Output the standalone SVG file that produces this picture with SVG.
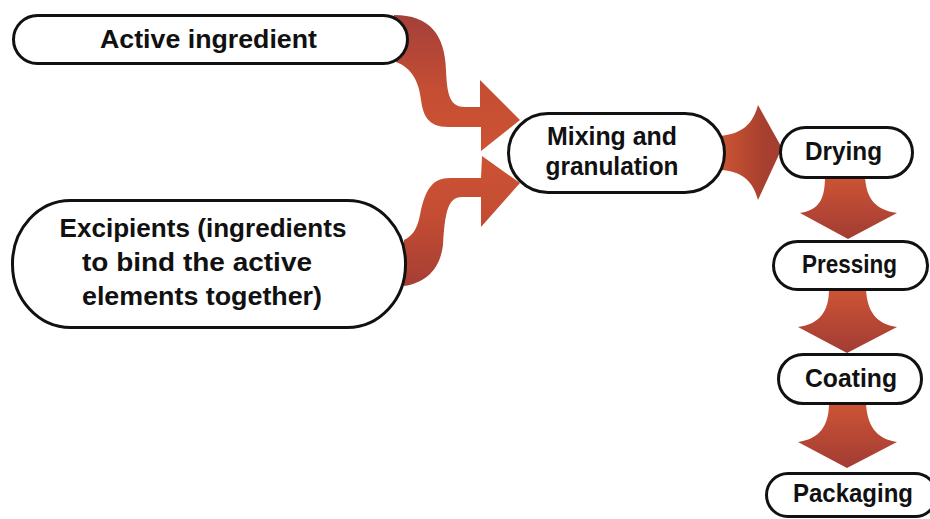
<svg xmlns="http://www.w3.org/2000/svg" width="930" height="519" viewBox="0 0 930 519">
<defs>
<linearGradient id="gA" x1="0" y1="0" x2="0" y2="1">
<stop offset="0" stop-color="#a43f3a"/><stop offset="0.55" stop-color="#c54e33"/><stop offset="1" stop-color="#cc5233"/>
</linearGradient>
<linearGradient id="gB" x1="0" y1="0" x2="0" y2="1">
<stop offset="0" stop-color="#cc5233"/><stop offset="0.45" stop-color="#c44d33"/><stop offset="1" stop-color="#a63e35"/>
</linearGradient>
<linearGradient id="gC" x1="0" y1="0" x2="1" y2="0">
<stop offset="0" stop-color="#cd5434"/><stop offset="0.7" stop-color="#a8402f"/><stop offset="1" stop-color="#a33d30"/>
</linearGradient>
<linearGradient id="gD" x1="0" y1="0" x2="0" y2="1">
<stop offset="0" stop-color="#cd5434"/><stop offset="1" stop-color="#a23c34"/>
</linearGradient>
<style>
.pill{fill:#fff;stroke:#111;stroke-width:3}
.lbl{font-family:"Liberation Sans",Arial,sans-serif;font-weight:bold;font-size:26px;fill:#111;text-anchor:middle}
</style>
</defs>
<g id="connectors">
<path fill="url(#gA)" d="M 394,15 C 430,15 445,35 446,70 C 447,95 450,107 465,107 L 480,107 L 480,80 L 520,120 L 481,151 L 481,127 L 448,127 C 428,127 423,115 421,100 C 419,82 412,68 396,62 Z"/>
<path fill="url(#gB)" d="M 481,178 L 450,178 C 432,178 425,190 420,215 C 417,230 412,236 404,240 L 404,286 C 425,283 440,270 443,245 C 445,215 447,197 462,197 L 481,197 L 481,227 L 520,183 L 482,156 Z"/>
<path fill="url(#gC)" d="M 720,136 C 742,134 753,124 758,105 L 782,148 L 758,200 C 753,181 742,171 720,170 Z"/>
<path fill="url(#gD)" d="M 825,176 L 865,176 C 866,198 875,210 897,213 L 848,239 L 800,213 C 820,210 825,198 825,176 Z"/>
<path fill="url(#gD)" d="M 829,289 L 866,289 C 867,311 876,324 897,327 L 847,353 L 798,327 C 820,324 829,311 829,289 Z"/>
<path fill="url(#gD)" d="M 829,403 L 866,403 C 867,425 876,439 897,442 L 847,468 L 798,442 C 820,439 829,425 829,403 Z"/>
</g>
<g id="active">
<rect class="pill" x="13.5" y="15.5" width="394" height="48" rx="24"/>
<text class="lbl" x="208.5" y="48" font-size="28" textLength="217" lengthAdjust="spacingAndGlyphs">Active ingredient</text>
</g>
<g id="excipients">
<rect class="pill" x="12.5" y="200.5" width="393" height="127" rx="58" ry="63"/>
<text class="lbl" x="203" y="237" font-size="28" textLength="287" lengthAdjust="spacingAndGlyphs">Excipients (ingredients</text>
<text class="lbl" x="197" y="271" font-size="28" textLength="230" lengthAdjust="spacingAndGlyphs">to bind the active</text>
<text class="lbl" x="202" y="305" font-size="28" textLength="240" lengthAdjust="spacingAndGlyphs">elements together)</text>
</g>
<g id="mixing">
<rect class="pill" x="508.5" y="113.5" width="216" height="79" rx="39.5"/>
<text class="lbl" x="612" y="145" textLength="130" lengthAdjust="spacingAndGlyphs">Mixing and</text>
<text class="lbl" x="612" y="175" textLength="133" lengthAdjust="spacingAndGlyphs">granulation</text>
</g>
<g id="drying">
<rect class="pill" x="780.5" y="127.5" width="132" height="50" rx="25"/>
<text class="lbl" x="843.5" y="160" textLength="77" lengthAdjust="spacingAndGlyphs">Drying</text>
</g>
<g id="pressing">
<rect class="pill" x="773.5" y="241.5" width="154" height="48" rx="24"/>
<text class="lbl" x="849.5" y="273" textLength="95" lengthAdjust="spacingAndGlyphs">Pressing</text>
</g>
<g id="coating">
<rect class="pill" x="778.5" y="354.5" width="143" height="49" rx="24.5"/>
<text class="lbl" x="851" y="387" textLength="92" lengthAdjust="spacingAndGlyphs">Coating</text>
</g>
<g id="packaging">
<rect class="pill" x="766.5" y="473.5" width="170" height="43" rx="21.5"/>
<text class="lbl" x="853" y="502" textLength="120" lengthAdjust="spacingAndGlyphs">Packaging</text>
</g>
</svg>
